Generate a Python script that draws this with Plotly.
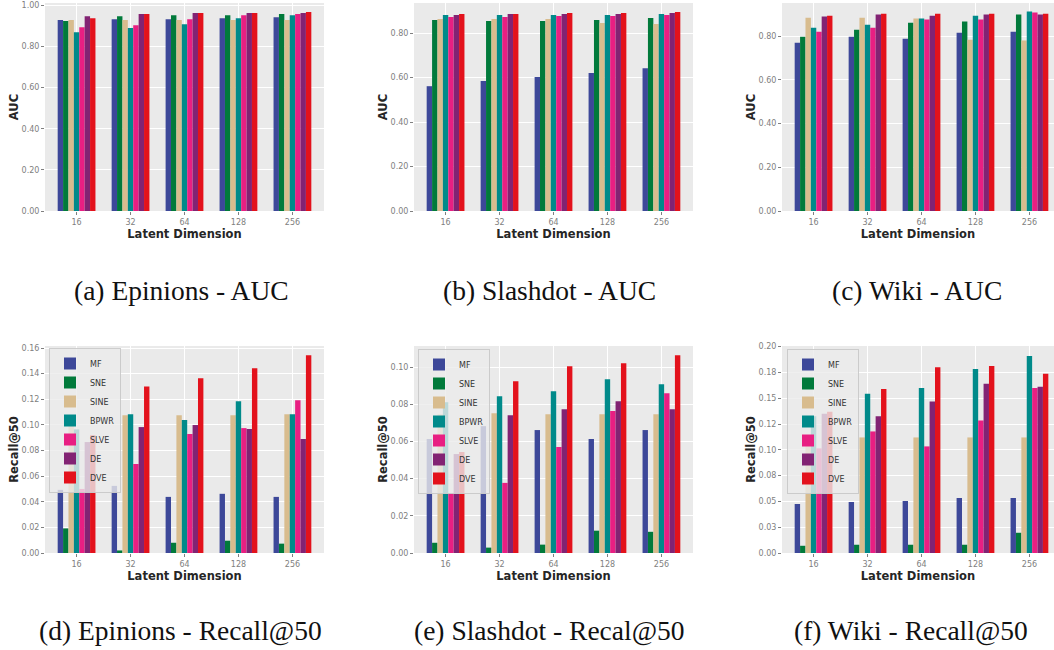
import plotly.graph_objects as go

dims = ["16", "32", "64", "128", "256"]
methods = ["MF", "SNE", "SINE", "BPWR", "SLVE", "DE", "DVE"]
colors = ["#3d4899", "#017a3b", "#d8bc8e", "#008a8a", "#e81f82", "#822373", "#e3121c"]

epinions_auc = {
    "MF":   [0.929, 0.933, 0.933, 0.938, 0.943],
    "SNE":  [0.924, 0.948, 0.953, 0.953, 0.958],
    "SINE": [0.929, 0.929, 0.929, 0.929, 0.929],
    "BPWR": [0.870, 0.890, 0.909, 0.938, 0.953],
    "SLVE": [0.894, 0.904, 0.933, 0.953, 0.958],
    "DE":   [0.948, 0.958, 0.963, 0.963, 0.963],
    "DVE":  [0.938, 0.958, 0.963, 0.963, 0.968],
}
slashdot_auc = {
    "MF":   [0.561, 0.584, 0.602, 0.620, 0.642],
    "SNE":  [0.859, 0.854, 0.854, 0.859, 0.868],
    "SINE": [0.863, 0.863, 0.863, 0.845, 0.841],
    "BPWR": [0.881, 0.881, 0.881, 0.881, 0.886],
    "SLVE": [0.872, 0.872, 0.877, 0.877, 0.881],
    "DE":   [0.881, 0.886, 0.886, 0.886, 0.890],
    "DVE":  [0.886, 0.886, 0.890, 0.890, 0.895],
}
wiki_auc = {
    "MF":   [0.769, 0.797, 0.788, 0.815, 0.820],
    "SNE":  [0.797, 0.829, 0.861, 0.866, 0.898],
    "SINE": [0.884, 0.884, 0.880, 0.783, 0.779],
    "BPWR": [0.838, 0.852, 0.880, 0.893, 0.912],
    "SLVE": [0.820, 0.838, 0.875, 0.875, 0.907],
    "DE":   [0.889, 0.898, 0.893, 0.898, 0.898],
    "DVE":  [0.893, 0.902, 0.902, 0.902, 0.902],
}
epinions_recall = {
    "MF":   [0.0493, 0.0524, 0.0438, 0.0462, 0.0438],
    "SNE":  [0.0192, 0.0020, 0.0080, 0.0096, 0.0073],
    "SINE": [0.1076, 0.1076, 0.1076, 0.1076, 0.1084],
    "BPWR": [0.0965, 0.1084, 0.1038, 0.1185, 0.1084],
    "SLVE": [0.0500, 0.0695, 0.0929, 0.0975, 0.1193],
    "DE":   [0.0866, 0.0983, 0.0999, 0.0968, 0.0890],
    "DVE":  [0.0920, 0.1300, 0.1364, 0.1442, 0.1543],
}
slashdot_recall = {
    "MF":   [0.0613, 0.0682, 0.0661, 0.0613, 0.0661],
    "SNE":  [0.0055, 0.0029, 0.0045, 0.0120, 0.0114],
    "SINE": [0.0746, 0.0752, 0.0746, 0.0746, 0.0746],
    "BPWR": [0.0810, 0.0843, 0.0870, 0.0934, 0.0907],
    "SLVE": [0.0323, 0.0377, 0.0570, 0.0763, 0.0859],
    "DE":   [0.0532, 0.0741, 0.0773, 0.0816, 0.0773],
    "DVE":  [0.0543, 0.0923, 0.1004, 0.1020, 0.1063],
}
wiki_recall = {
    "MF":   [0.0475, 0.0494, 0.0504, 0.0533, 0.0533],
    "SNE":  [0.0070, 0.0080, 0.0080, 0.0080, 0.0196],
    "SINE": [0.1120, 0.1120, 0.1120, 0.1120, 0.1120],
    "BPWR": [0.1325, 0.1544, 0.1600, 0.1784, 0.1910],
    "SLVE": [0.1014, 0.1178, 0.1033, 0.1284, 0.1600],
    "DE":   [0.1350, 0.1325, 0.1467, 0.1640, 0.1610],
    "DVE":  [0.1370, 0.1590, 0.1800, 0.1813, 0.1736],
}

auc_ticks = [0.0, 0.2, 0.4, 0.6, 0.8, 1.0]
epi_rec_ticks = [0.0, 0.02, 0.04, 0.06, 0.08, 0.10, 0.12, 0.14, 0.16]
sla_rec_ticks = [0.0, 0.02, 0.04, 0.06, 0.08, 0.10]
wiki_rec_ticks = [0.0, 0.025, 0.05, 0.075, 0.10, 0.125, 0.15, 0.175, 0.20]
wiki_rec_ticktext = ["0.00", "0.03", "0.05", "0.08", "0.10", "0.12", "0.15", "0.18", "0.20"]

captions = ["(a) Epinions - AUC", "(b) Slashdot - AUC", "(c) Wiki - AUC",
            "(d) Epinions - Recall@50", "(e) Slashdot - Recal@50", "(f) Wiki - Recall@50"]

W, H = 1054, 650
def px(x):
    return x / W
def py(y):
    return 1 - y / H

panels = [
    # data, ytitle, yrange max, tickvals, ticktext, x pixel domain, y pixel domain, xrange, legend
    (epinions_auc, "AUC", 1.012, auc_ticks, None, (45, 324), (3, 211), (-0.585, 4.585), None),
    (slashdot_auc, "AUC", 0.935, auc_ticks[:-1], None, (414, 693), (3, 211), (-0.585, 4.585), None),
    (wiki_auc, "AUC", 0.951, auc_ticks[:-1], None, (782, 1054), (3, 211), (-0.585, 4.455), None),
    (epinions_recall, "Recall@50", 0.1616, epi_rec_ticks, None, (45, 324), (346, 553), (-0.585, 4.585), "legend"),
    (slashdot_recall, "Recall@50", 0.1113, sla_rec_ticks, None, (414, 693), (346, 553), (-0.585, 4.585), "legend2"),
    (wiki_recall, "Recall@50", 0.2006, wiki_rec_ticks, wiki_rec_ticktext, (782, 1054), (346, 553), (-0.585, 4.455), "legend3"),
]

fig = go.Figure()
layout = {}
tick_font = dict(family="DejaVu Sans", size=8, color="#808080")
title_font = dict(family="DejaVu Sans", size=11.5, color="#262626", weight="bold")

for i, (data, ytitle, ymax, tv, tt, xd, yd, xr, leg) in enumerate(panels):
    n = "" if i == 0 else str(i + 1)
    for m, c in zip(methods, colors):
        fig.add_trace(go.Bar(
            x=dims, y=data[m], name=m, marker=dict(color=c, line=dict(width=0)),
            xaxis="x" + n, yaxis="y" + n,
            showlegend=leg is not None, legend=leg if leg else "legend",
        ))
    layout["xaxis" + n] = dict(
        domain=[px(xd[0]), px(xd[1])], anchor="y" + n, type="category",
        categoryorder="array", categoryarray=dims, range=list(xr),
        showgrid=True, gridcolor="white", gridwidth=1, zeroline=False, showline=False,
        ticks="outside", ticklen=3, tickcolor="#808080", tickfont=tick_font,
        title=dict(text="Latent Dimension", font=title_font, standoff=2), automargin=False,
    )
    ya = dict(
        domain=[py(yd[1]), py(yd[0])], anchor="x" + n, range=[0, ymax],
        showgrid=True, gridcolor="white", gridwidth=1, zeroline=False, showline=False,
        ticks="outside", ticklen=3, tickcolor="#808080", tickfont=tick_font,
        tickmode="array", tickvals=tv,
        title=dict(text=ytitle, font=title_font, standoff=0), automargin=False,
    )
    if tt is not None:
        ya["ticktext"] = tt
    else:
        ya["tickformat"] = ".2f"
    layout["yaxis" + n] = ya

legend_style = dict(
    bgcolor="rgba(235,235,235,0.8)", bordercolor="rgba(200,200,200,0.9)", borderwidth=1,
    font=dict(family="DejaVu Sans", size=8, color="#333333"),
    xanchor="left", yanchor="top", tracegroupgap=0, itemwidth=30,
)
legend_pos = {"legend": (49, 348), "legend2": (418, 349), "legend3": (787, 349)}
for k, (lx, ly) in legend_pos.items():
    layout[k] = dict(legend_style, x=px(lx), y=py(ly))

annotations = []
cap_pos = [(181, 290), (549, 290), (917, 290), (180, 630), (549, 630), (911, 630)]
for cap, (cx, cy) in zip(captions, cap_pos):
    annotations.append(dict(
        text=cap, x=px(cx), y=py(cy), xref="paper", yref="paper",
        xanchor="center", yanchor="middle", showarrow=False,
        font=dict(family="Liberation Serif", size=27.5, color="#111111"),
    ))

fig.update_layout(
    **layout,
    annotations=annotations,
    barmode="group", bargap=0.3, bargroupgap=0,
    width=W, height=H, autosize=False,
    margin=dict(l=0, r=0, t=0, b=0),
    paper_bgcolor="white", plot_bgcolor="#EAEAEA",
    hovermode=False,
)

fig.write_html(
    "out.html",
    config={"displayModeBar": False, "staticPlot": True},
    post_script="document.body.style.margin='0';document.body.style.overflow='hidden';",
)
